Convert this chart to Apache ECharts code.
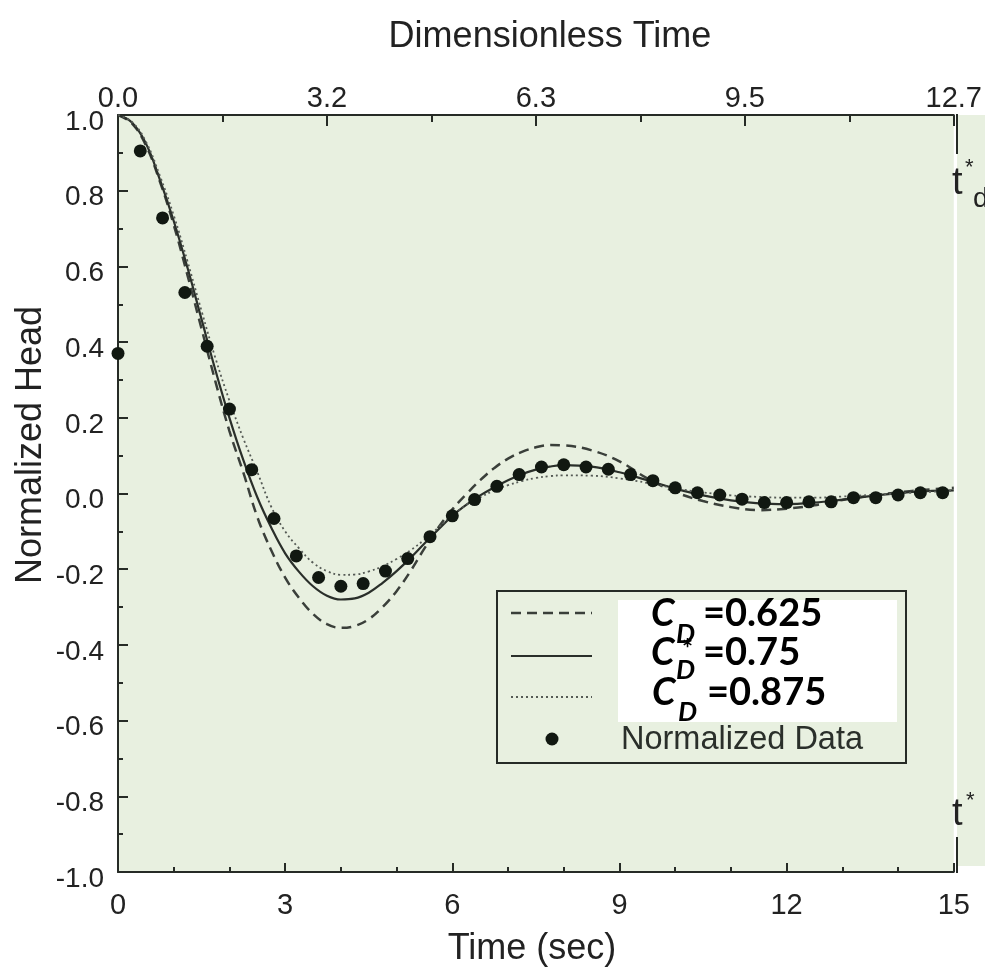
<!DOCTYPE html>
<html>
<head>
<meta charset="utf-8">
<script src="https://cdn.jsdelivr.net/npm/echarts@6/dist/echarts.min.js"></script>
<style>html,body{margin:0;padding:0;background:#fff}#c{width:985px;height:971px}</style>
</head>
<body>
<div id="c"></div>
<script>
// Measured data (time in sec, normalized head)
const dataT = [0,0.4,0.8,1.2,1.6,2.0,2.4,2.8,3.2,3.6,4.0,4.4,4.8,5.2,5.6,6.0,6.4,6.8,7.2,7.6,8.0,8.4,8.8,9.2,9.6,10.0,10.4,10.8,11.2,11.6,12.0,12.4,12.8,13.2,13.6,14.0,14.4,14.8];
const dataHead = [0.37,0.905,0.728,0.531,0.389,0.223,0.063,-0.066,-0.165,-0.222,-0.245,-0.238,-0.205,-0.172,-0.114,-0.059,-0.016,0.019,0.05,0.07,0.076,0.07,0.064,0.05,0.034,0.015,0.002,-0.004,-0.015,-0.024,-0.024,-0.022,-0.022,-0.011,-0.011,-0.004,0.002,0.002];

// Model curves
const curveT = [0,0.25,0.5,0.75,1,1.25,1.5,1.75,2,2.25,2.5,2.75,3,3.25,3.5,3.75,4,4.25,4.5,4.75,5,5.25,5.5,5.75,6,6.25,6.5,6.75,7,7.25,7.5,7.75,8,8.5,9,9.5,10,10.5,11,11.5,12,12.5,13,13.5,14,14.5,15];
const cd0625 = [1.0,0.978,0.92,0.825,0.71,0.575,0.435,0.295,0.165,0.055,-0.062,-0.15,-0.222,-0.276,-0.318,-0.345,-0.355,-0.35,-0.332,-0.3,-0.258,-0.205,-0.145,-0.09,-0.042,-0.002,0.035,0.067,0.092,0.11,0.122,0.128,0.127,0.114,0.085,0.04,0.004,-0.02,-0.036,-0.044,-0.04,-0.031,-0.017,-0.006,0.003,0.01,0.015];
const cd075 = [1.0,0.98,0.925,0.83,0.72,0.595,0.46,0.325,0.2,0.088,-0.01,-0.09,-0.158,-0.207,-0.245,-0.27,-0.28,-0.277,-0.262,-0.236,-0.205,-0.17,-0.132,-0.095,-0.059,-0.03,-0.005,0.016,0.035,0.051,0.063,0.071,0.075,0.071,0.056,0.035,0.013,-0.005,-0.018,-0.026,-0.028,-0.024,-0.016,-0.007,0.001,0.006,0.008];
const cd0875 = [1.0,0.982,0.93,0.84,0.735,0.612,0.482,0.357,0.245,0.145,0.057,-0.035,-0.1,-0.145,-0.183,-0.205,-0.215,-0.214,-0.206,-0.192,-0.173,-0.15,-0.122,-0.09,-0.058,-0.03,-0.01,0.008,0.022,0.033,0.041,0.046,0.048,0.047,0.04,0.028,0.014,0.003,-0.005,-0.009,-0.011,-0.011,-0.008,-0.004,0.0,0.004,0.007];

// Top axis (dimensionless time) tick labels
const topLabels = ['0.0','3.2','6.3','9.5','12.7'];

const zip = (xs, ys) => xs.map((x, i) => [x, ys[i]]);
const AX = '#262b26';
const LINE = '#3a3f3a';
const BG = '#e8f0e0';
const FONT = '"Liberation Sans", Arial, sans-serif';

const chart = echarts.init(document.getElementById('c'), null, {renderer: 'canvas'});

const txt = (text, x, y, size, opts = {}) => Object.assign({
  type: 'text', x: x, y: y, z: 20,
  style: Object.assign({
    text: text, font: size + 'px ' + FONT, fill: '#222',
    textAlign: 'left', textVerticalAlign: 'middle'
  }, opts.style || {})
}, opts.el || {});
const cdFont = (size, italic) => (italic ? 'italic ' : '') + 'bold ' + size + 'px Lato, "Open Sans", sans-serif';

chart.setOption({
  animation: false,
  backgroundColor: '#ffffff',
  grid: {left: 118, right: 28, top: 115, bottom: 99, show: true, backgroundColor: BG, borderWidth: 0},
  xAxis: [
    {
      type: 'value', position: 'bottom', min: 0, max: 15, interval: 3,
      axisLine: {show: true, onZero: false, lineStyle: {color: AX, width: 2}},
      axisTick: {show: true, inside: true, length: 9, lineStyle: {color: AX, width: 2}},
      minorTick: {show: true, splitNumber: 3, length: 5, lineStyle: {color: AX, width: 2}},
      splitLine: {show: false},
      axisLabel: {fontSize: 29, fontFamily: FONT, color: '#222', margin: 19}
    },
    {
      type: 'value', position: 'top', min: 0, max: 15, interval: 3.75,
      axisLine: {show: true, onZero: false, lineStyle: {color: AX, width: 2}},
      axisTick: {show: true, inside: true, length: 11, lineStyle: {color: AX, width: 2}},
      minorTick: {show: true, splitNumber: 2, length: 7, lineStyle: {color: AX, width: 2}},
      splitLine: {show: false},
      axisLabel: {fontSize: 29, fontFamily: FONT, color: '#222', margin: 2,
        formatter: v => topLabels[Math.round(v / 3.75)] || ''}
    }
  ],
  yAxis: {
    type: 'value', min: -1, max: 1, interval: 0.2,
    axisLine: {show: true, onZero: false, lineStyle: {color: AX, width: 2}},
    axisTick: {show: true, inside: true, length: 10, lineStyle: {color: AX, width: 2}},
    minorTick: {show: true, splitNumber: 2, length: 5, lineStyle: {color: AX, width: 2}},
    splitLine: {show: false},
    axisLabel: {fontSize: 28, fontFamily: FONT, color: '#222', margin: 14,
      verticalAlign: 'top', lineHeight: 14,
      formatter: v => (Math.abs(v) < 1e-9 ? 0 : v).toFixed(1)}
  },
  series: [
    {name: 'CD=0.625', type: 'line', data: zip(curveT, cd0625), smooth: 0.4, symbol: 'none',
      lineStyle: {color: LINE, width: 2.5, type: [10, 6]}, z: 3},
    {name: 'CD*=0.75', type: 'line', data: zip(curveT, cd075), smooth: 0.4, symbol: 'none',
      lineStyle: {color: '#2a2f2a', width: 2.2, type: 'solid'}, z: 3},
    {name: 'CD=0.875', type: 'line', data: zip(curveT, cd0875), smooth: 0.4, symbol: 'none',
      lineStyle: {color: '#555a55', width: 1.8, type: [2, 3]}, z: 3},
    {name: 'Normalized Data', type: 'scatter', data: zip(dataT, dataHead), symbol: 'circle', symbolSize: 13,
      itemStyle: {color: '#111811', opacity: 1}, z: 5}
  ],
  graphic: [
    // green strip right of the plot
    {type: 'rect', shape: {x: 957, y: 115, width: 28, height: 751}, style: {fill: BG}, z: 0, silent: true},
    // partial right frame
    {type: 'line', shape: {x1: 957, y1: 114, x2: 957, y2: 154}, style: {stroke: AX, lineWidth: 2}, z: 10},
    {type: 'line', shape: {x1: 957, y1: 837, x2: 957, y2: 873}, style: {stroke: AX, lineWidth: 2}, z: 10},
    // t*_d and t*
    txt('t', 952, 184, 38),
    txt('*', 965, 168, 22),
    txt('d', 973, 199, 28),
    txt('t', 952, 815, 38),
    txt('*', 966, 801, 22),
    // axis titles
    txt('Dimensionless Time', 550, 37, 36, {style: {textAlign: 'center'}}),
    txt('Time (sec)', 532, 949, 36, {style: {textAlign: 'center'}}),
    txt('Normalized Head', 31, 445, 36, {style: {textAlign: 'center'}, el: {rotation: Math.PI / 2}}),
    // legend
    {type: 'rect', shape: {x: 497, y: 591, width: 409, height: 172}, style: {fill: 'none', stroke: AX, lineWidth: 2}, z: 10},
    {type: 'rect', shape: {x: 618, y: 600, width: 279, height: 122}, style: {fill: '#ffffff'}, z: 10},
    {type: 'line', shape: {x1: 511, y1: 613, x2: 592, y2: 613}, style: {stroke: LINE, lineWidth: 2.5, lineDash: [10, 6]}, z: 10},
    {type: 'line', shape: {x1: 511, y1: 656, x2: 592, y2: 656}, style: {stroke: '#2a2f2a', lineWidth: 2.2}, z: 10},
    {type: 'line', shape: {x1: 511, y1: 697, x2: 592, y2: 697}, style: {stroke: '#555a55', lineWidth: 1.8, lineDash: [2, 3]}, z: 10},
    {type: 'circle', shape: {cx: 552, cy: 739, r: 6.5}, style: {fill: '#111811'}, z: 10},
    txt('Normalized Data', 621, 740, 32.5, {style: {fill: '#2a2f2a'}}),
    // C_D labels
    txt('C', 651, 614, 38, {style: {font: cdFont(38, true), fill: '#000'}}),
    txt('D', 676, 634, 27, {style: {font: cdFont(27, true), fill: '#000'}}),
    txt('=0.625', 703, 614, 38, {style: {font: cdFont(38, false), fill: '#000'}}),
    txt('C', 651, 653, 38, {style: {font: cdFont(38, true), fill: '#000'}}),
    txt('*', 682, 650, 26, {style: {font: cdFont(26, false), fill: '#000'}}),
    txt('D', 676, 670, 27, {style: {font: cdFont(27, true), fill: '#000'}}),
    txt('=0.75', 703, 653, 38, {style: {font: cdFont(38, false), fill: '#000'}}),
    txt('C', 652, 693, 38, {style: {font: cdFont(38, true), fill: '#000'}}),
    txt('D', 678, 712, 27, {style: {font: cdFont(27, true), fill: '#000'}}),
    txt('=0.875', 707, 693, 38, {style: {font: cdFont(38, false), fill: '#000'}})
  ]
});
</script>
</body>
</html>
